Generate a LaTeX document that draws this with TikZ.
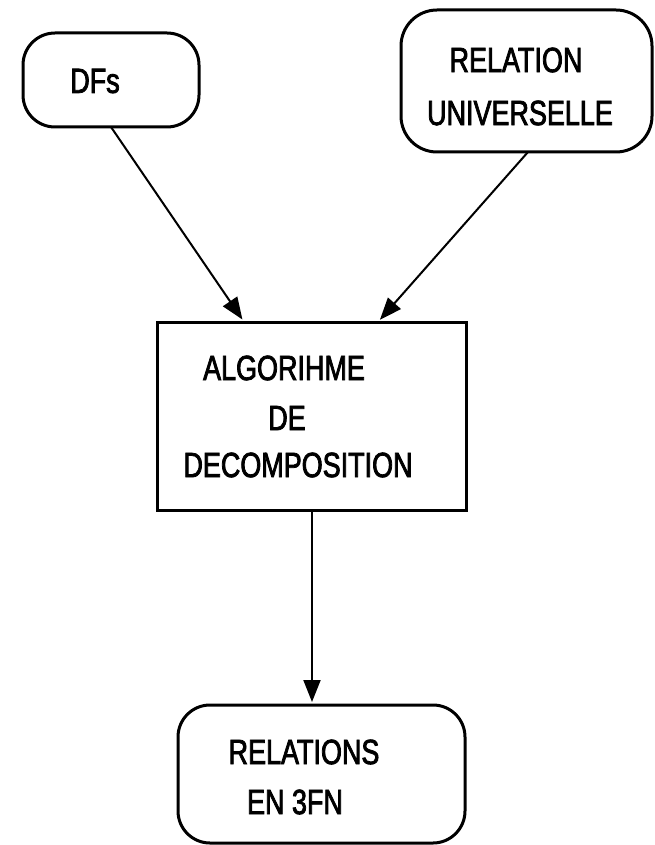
\documentclass[tikz,border=0pt]{standalone}
\usepackage{fontspec}
\setmainfont{Liberation Sans}[FakeStretch=0.77,FakeBold=2.2]
\usetikzlibrary{arrows.meta,calc}
\begin{document}
\begin{tikzpicture}[x=1pt,y=-1pt,
  box/.style={draw=black,line width=3pt,rounded corners=32pt},
  plainbox/.style={draw=black,line width=3pt},
  lbl/.style={inner sep=0pt,font=\fontsize{35}{48}\selectfont},
  link/.style={line width=2pt,-{Triangle[length=22pt,width=17pt]},shorten >=3pt}]
\useasboundingbox (0,0) rectangle (655,845);

% boxes
\draw[box] (23,33) rectangle (199,127);
\coordinate (dfsS) at (111,127);
\draw[box,rounded corners=36pt] (401,10) rectangle (652,152);
\coordinate (relS) at (528,152);
\draw[plainbox] (157,322) rectangle (466,510);
\coordinate (algNW) at (157,322);
\coordinate (algNE) at (466,322);
\coordinate (algS) at (312,510);
\draw[box] (178,705) rectangle (465,843);
\coordinate (resN) at (312,705);

% labels
\node[lbl] (dfs) at (95,81) {DFs};
\node[lbl] (rel1) at (516,60) {RELATION};
\node[lbl] (rel2) at (520,113) {UNIVERSELLE};
\node[lbl] (alg1) at (284,368) {ALGORIHME};
\node[lbl] (alg2) at (287,418) {DE};
\node[lbl] (alg3) at (298,465) {DECOMPOSITION};
\node[lbl] (res1) at (304,752) {RELATIONS};
\node[lbl] (res2) at (295,802) {EN 3FN};

% connectors
\draw[link] (dfsS) -- ($(algNW)!0.282!(algNE)$);
\draw[link] (relS) -- ($(algNW)!0.715!(algNE)$);
\draw[link] (algS) -- (resN);
\end{tikzpicture}
\end{document}
